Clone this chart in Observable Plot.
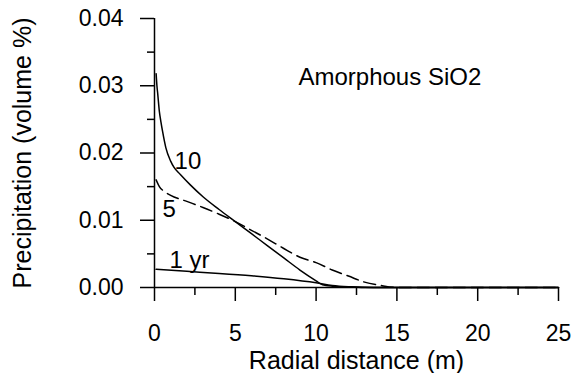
<!DOCTYPE html>
<html>
<head>
<meta charset="utf-8">
<script src="https://cdn.jsdelivr.net/npm/d3@7"></script>
<script src="https://cdn.jsdelivr.net/npm/@observablehq/plot@0.6"></script>
<style>
  html, body { margin: 0; padding: 0; background: #fff; }
  #chart svg { display: block; }
</style>
</head>
<body>
<div id="chart"></div>
<script>
// Series: 10 yr (solid)
const dist10 = [0.1, 0.15, 0.2, 0.3, 0.4, 0.5, 0.7, 1.0, 1.2, 1.6, 2.2, 3.0, 4.0, 5.0, 6.0, 7.0, 8.0, 9.0, 10.0, 10.4, 11, 12, 13, 14, 25];
const prec10 = [0.0318, 0.0300, 0.0288, 0.0262, 0.0246, 0.0232, 0.0208, 0.0188, 0.0179, 0.0168, 0.0153, 0.0135, 0.0116, 0.0098, 0.0080, 0.0062, 0.0044, 0.0026, 0.0010, 0.0004, 0.0002, 0.0001, 0.00003, 0, 0];
// Series: 5 yr (dashed)
const dist5 = [0.1, 0.3, 0.6, 1.0, 2.0, 3.0, 4.0, 5.0, 6.0, 7.0, 8.0, 9.0, 10.0, 11.0, 12.0, 13.0, 14.0, 15.0, 25];
const prec5 = [0.0160, 0.0150, 0.0143, 0.0137, 0.0128, 0.0119, 0.0109, 0.0098, 0.0085, 0.0072, 0.0058, 0.0045, 0.0037, 0.0026, 0.0017, 0.0008, 0.0003, 0, 0];
// Series: 1 yr (solid)
const dist1 = [0.1, 2, 4, 6, 8, 10, 11, 12, 13, 25];
const prec1 = [0.0027, 0.0024, 0.0021, 0.00175, 0.0013, 0.0007, 0.0003, 0.0001, 0, 0];

// Ticks
const xMajorTicks = [0, 5, 10, 15, 20, 25];
const xMinorTicks = [2.5, 7.5, 12.5, 17.5, 22.5];
const yMajorTicks = [0, 0.01, 0.02, 0.03, 0.04];
const yMinorTicks = [0.005, 0.015, 0.025, 0.035];

// Axis titles
const xTitle = "Radial distance (m)";
const yTitle = "Precipitation (volume %)";

// Annotations
const labelText = ["Amorphous SiO2", "10", "5", "1 yr"];
const labelX = [8.91, 1.24, 0.5, 0.93];
const labelY = [0.0312, 0.0187, 0.0116, 0.0040];

const toRows = (xs, ys) => xs.map((x, i) => ({x, y: ys[i]}));
const rows10 = toRows(dist10, prec10);
const rows5 = toRows(dist5, prec5);
const rows1 = toRows(dist1, prec1);
const labels = labelText.map((t, i) => ({t, x: labelX[i], y: labelY[i]}));

const font = "'Liberation Sans', Arial, Helvetica, sans-serif";

const chart = Plot.plot({
  width: 574,
  height: 373,
  marginLeft: 154,
  marginRight: 16,
  marginTop: 18,
  marginBottom: 86,
  style: {fontFamily: font, fontSize: "23px", color: "#000", background: "#fff"},
  x: {domain: [0, 25]},
  y: {domain: [0, 0.04]},
  marks: [
    Plot.axisX({ticks: xMajorTicks, tickSize: 14, tickPadding: 23, strokeWidth: 1.5, tickFormat: d => String(d), label: null, fontSize: 23}),
    Plot.axisX({ticks: xMinorTicks, tickSize: 8, strokeWidth: 1.5, text: null, label: null}),
    Plot.axisX({ticks: [], label: xTitle, labelAnchor: "center", labelOffset: 81, labelArrow: "none", fontSize: 25}),
    Plot.axisY({ticks: yMajorTicks, tickSize: 14, tickPadding: 17, strokeWidth: 1.5, tickFormat: d3.format(".2f"), label: null, fontSize: 23}),
    Plot.axisY({ticks: yMinorTicks, tickSize: 7, strokeWidth: 1.5, text: null, label: null}),
    Plot.axisY({ticks: [], label: yTitle, labelAnchor: "center", labelOffset: 141, labelArrow: "none", fontSize: 25}),
    Plot.ruleY([0], {strokeWidth: 1.5}),
    Plot.ruleX([0], {strokeWidth: 1.5}),
    Plot.line(rows1, {x: "x", y: "y", stroke: "black", strokeWidth: 1.5, curve: "monotone-x"}),
    Plot.line(rows10, {x: "x", y: "y", stroke: "black", strokeWidth: 1.5, curve: "monotone-x"}),
    Plot.line(rows5, {x: "x", y: "y", stroke: "black", strokeWidth: 1.5, strokeDasharray: "12,6", curve: "monotone-x"}),
    Plot.text(labels, {x: "x", y: "y", text: "t", textAnchor: "start", lineAnchor: "middle", fontSize: 24, fill: "black"})
  ]
});
document.getElementById("chart").appendChild(chart);
</script>
</body>
</html>
